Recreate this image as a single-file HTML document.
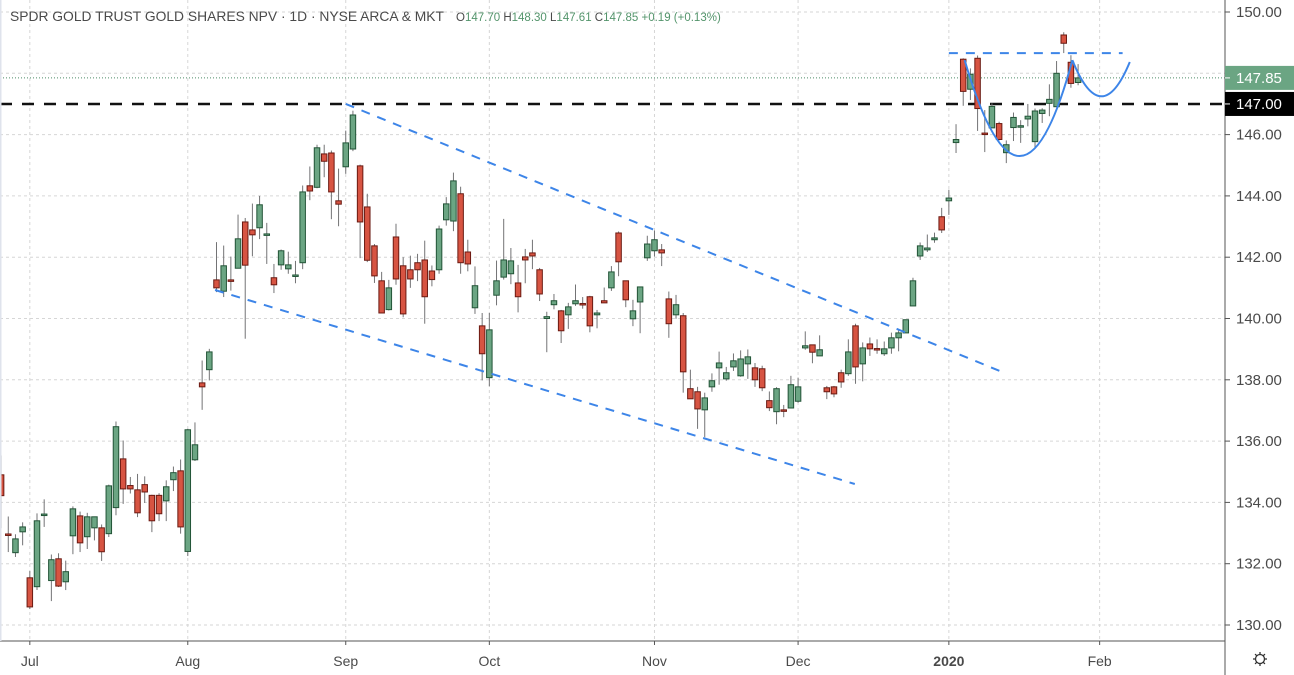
<!DOCTYPE html>
<html><head><meta charset="utf-8">
<style>
html,body{margin:0;padding:0;background:#fff;}
#wrap{position:relative;width:1294px;height:675px;overflow:hidden;font-family:"Liberation Sans",sans-serif;}
svg text{font-family:"Liberation Sans",sans-serif;}
</style></head>
<body>
<div id="wrap">
<svg id="chart" width="1294" height="675"></svg>
</div>
<script>
const opens=[134.9,132.97,132.36,133.04,131.54,131.25,133.6,131.45,132.16,131.41,132.91,133.56,132.88,133.17,133.17,132.98,133.83,135.42,134.55,134.41,134.58,134.23,134.23,134.05,134.74,135.03,132.4,135.39,137.9,138.33,
141.26,140.89,141.26,141.64,143.15,142.89,142.96,142.72,141.33,141.75,141.62,141.39,141.82,144.33,144.28,145.37,145.4,143.84,144.95,145.53,144.98,143.64,142.37,141.23,140.29,142.66,141.72,141.59,141.82,141.91,141.55,141.59,143.22,143.18,144.07,142.17,140.35,
139.76,138.07,140.76,141.35,141.46,141.16,142.01,142.14,141.59,140.0,140.45,140.25,140.12,140.48,140.49,140.71,140.12,140.58,141.0,142.79,141.23,139.99,140.54,141.98,142.21,142.24,140.64,140.12,140.09,137.71,137.61,137.02,137.77,138.39,
138.03,138.42,138.13,138.52,138.39,138.36,137.32,136.96,137.02,137.08,137.3,139.04,139.14,138.78,137.74,137.77,138.23,138.2,139.76,138.52,139.17,139.02,138.85,139.04,139.37,139.53,140.41,142.04,142.24,142.57,143.32,143.84,
145.74,148.46,147.48,148.49,146.05,146.22,146.36,145.41,146.23,146.25,146.51,145.77,146.69,147.02,146.91,149.25,148.36,147.7];
const highs=[135.53,133.54,132.96,133.35,131.76,133.64,134.1,132.3,132.34,132.1,133.87,133.7,133.66,133.53,133.28,134.58,136.64,136.02,134.83,134.93,134.85,134.25,134.3,134.72,135.17,135.4,136.4,136.61,138.63,139.01,
142.49,142.38,142.02,143.39,143.28,143.75,144.0,143.12,141.78,142.25,142.18,141.88,144.34,144.96,145.67,145.67,145.48,144.89,146.13,146.78,145.02,144.07,142.43,141.52,141.26,143.09,142.0,142.05,142.11,142.54,141.73,143.03,143.96,144.76,144.3,142.57,141.7,
140.18,140.18,141.89,143.25,142.3,141.75,142.27,142.57,141.65,140.22,140.8,140.28,140.51,141.11,140.7,140.74,140.28,141.01,141.71,142.84,141.23,140.61,141.03,142.7,142.87,142.43,140.88,140.77,140.18,138.33,137.77,137.58,138.21,138.92,
138.42,138.86,138.96,138.99,138.55,138.46,137.62,137.76,137.18,138.13,138.07,139.58,139.14,139.45,137.8,137.8,138.33,139.32,139.83,139.22,139.38,139.32,139.25,139.54,139.66,139.96,141.33,142.48,142.74,142.8,143.61,144.2,
146.34,148.49,148.16,148.58,146.8,147.02,146.42,145.81,146.72,146.47,147.0,146.85,146.86,147.64,148.4,149.34,148.59,148.3];
const lows=[133.16,132.38,132.22,132.6,130.52,131.14,133.2,130.78,131.24,131.14,132.31,132.38,132.48,132.76,132.09,132.87,133.58,133.95,134.29,133.52,133.98,133.03,133.39,133.39,134.37,132.98,132.25,135.35,137.02,137.98,
140.86,140.7,140.91,141.64,139.34,142.03,142.59,141.78,140.83,141.59,141.46,141.15,141.61,143.86,144.25,144.61,143.24,143.01,144.72,145.46,141.97,141.84,141.16,140.18,140.26,141.1,140.04,141.0,141.22,139.83,141.05,141.46,143.03,142.85,141.46,141.54,140.15,
137.98,137.79,140.43,141.27,141.12,140.2,141.15,141.61,140.57,138.9,140.3,139.2,139.66,140.41,140.32,139.55,139.68,140.51,140.9,141.38,140.37,139.75,139.52,141.88,142.02,141.71,139.37,139.99,137.58,137.38,136.4,136.13,137.61,137.84,
137.97,138.29,138.1,138.03,137.77,137.63,136.98,136.55,136.78,137.08,137.25,138.98,138.54,138.78,137.37,137.43,137.74,138.13,137.87,137.95,138.78,138.85,138.78,138.85,138.93,139.53,140.41,141.91,142.17,142.47,142.79,143.38,
145.4,146.94,147.13,146.12,145.43,146.22,145.81,145.07,145.79,145.73,146.27,145.53,146.38,146.6,146.89,148.66,147.53,147.61];
const closes=[134.22,132.95,132.81,133.2,130.59,133.4,133.62,132.13,131.27,131.74,133.79,132.68,133.53,133.53,132.39,134.54,136.47,134.44,134.44,133.66,134.34,133.4,133.63,134.51,134.97,133.2,136.37,135.88,137.77,138.91,
141.0,141.72,141.22,142.6,141.74,142.73,143.71,142.76,141.1,142.21,141.75,141.42,144.13,144.16,145.57,145.13,144.13,143.73,145.73,146.64,143.15,141.9,141.39,140.18,141.0,141.29,140.15,141.29,141.59,140.71,141.27,142.92,143.74,144.49,141.82,141.78,141.07,
138.85,139.63,141.23,141.91,141.88,140.71,141.91,142.04,140.8,140.06,140.58,139.6,140.38,140.58,140.46,139.76,140.18,140.51,141.52,141.85,140.61,140.25,141.03,142.43,142.57,142.14,139.83,140.45,138.26,137.38,137.05,137.41,137.97,138.55,
138.23,138.62,138.68,138.75,138.0,137.74,137.09,137.71,137.0,137.84,137.77,139.11,138.9,138.98,137.61,137.54,137.93,138.91,138.42,139.04,139.01,139.0,139.01,139.37,139.53,139.96,141.23,142.37,142.3,142.63,142.89,143.93,
145.84,147.41,147.97,146.85,146.03,146.92,145.84,145.67,146.56,146.29,146.6,146.77,146.8,147.15,148.0,148.98,147.67,147.85];
const priceTicks=[130,132,134,136,138,140,142,144,146,148,150];
const monthLabels=["Jul","Aug","Sep","Oct","Nov","Dec","2020","Feb"];
const monthIdx=[4,26,48,68,91,111,132,153];
const upperTrend=[[48,147.0],[139.8,138.22]];
const lowerTrend=[[29.8,140.93],[118.9,134.6]];
const resistance=[[132,148.66],[156.2,148.66]];
const cup=[[134.2,148.43],[142,145.3],[149.2,148.43]];
const handle=[[149.2,148.43],[153.2,147.25],[157.2,148.37]];
const supportLevel=147.0;
const lastPrice=147.85;

const NS="http://www.w3.org/2000/svg";
const svg=document.getElementById('chart');
const PLOT_R=1225, AXIS_B=641;
function yOf(p){return 12+(150-p)*30.65;}
function xOf(i){return 1.1+7.18*i;}
function mk(tag,attrs,parent){const e=document.createElementNS(NS,tag);for(const k in attrs)e.setAttribute(k,attrs[k]);(parent||svg).appendChild(e);return e;}

const defs=mk('defs',{});
const cp=mk('clipPath',{id:'plotclip'},defs);
mk('rect',{x:0,y:0,width:PLOT_R,height:AXIS_B},cp);

const grid=mk('g',{'clip-path':'url(#plotclip)'});


priceTicks.forEach(p=>{
  const l=mk('line',{x1:0,x2:PLOT_R,y1:yOf(p),y2:yOf(p),stroke:'#d6d6d6','stroke-dasharray':'3,3','stroke-width':1},grid);
  
  
});
monthIdx.forEach(i=>{
  const l=mk('line',{x1:xOf(i),x2:xOf(i),y1:0,y2:AXIS_B,stroke:'#d6d6d6','stroke-dasharray':'3,3','stroke-width':1},grid);
  
  
});

const plot=mk('g',{'clip-path':'url(#plotclip)'});



const lp=mk('line',{x1:0,x2:PLOT_R,y1:yOf(lastPrice),y2:yOf(lastPrice),stroke:'#4e8c68','stroke-dasharray':'1,2','stroke-width':1},plot);



const sl=mk('line',{x1:0,x2:PLOT_R,y1:yOf(supportLevel),y2:yOf(supportLevel),stroke:'#111','stroke-dasharray':'12,10','stroke-width':2.5},plot);



for(let i=0;i<opens.length;i++){
  const o=opens[i],h=highs[i],l=lows[i],c=closes[i];
  const up=c>=o;
  const g=mk('g',{},plot);
  
  
  const x=xOf(i);
  mk('line',{x1:x,x2:x,y1:yOf(h),y2:yOf(l),stroke:'#737375','stroke-width':1},g);
  const top=yOf(Math.max(o,c)),bot=yOf(Math.min(o,c));
  mk('rect',{x:x-2.75,y:top,width:5.5,height:Math.max(bot-top,1.5),fill:up?'#6ba583':'#d75442',stroke:up?'#225437':'#6b1a12','stroke-width':1},g);
}

function segLine(pts,name){
  const l=mk('line',{x1:xOf(pts[0][0]),y1:yOf(pts[0][1]),x2:xOf(pts[1][0]),y2:yOf(pts[1][1]),stroke:'#3d85e8','stroke-width':2,'stroke-dasharray':'9,8'},plot);
  
  
}
segLine(upperTrend,'upper-trend-line');
segLine(lowerTrend,'lower-trend-line');
segLine(resistance,'resistance-line');
function qcurve(pts,name){
  const [a,m,b]=pts;
  const cy=2*yOf(m[1])-(yOf(a[1])+yOf(b[1]))/2;
  const p=mk('path',{d:`M${xOf(a[0])},${yOf(a[1])} Q${xOf(m[0])},${cy} ${xOf(b[0])},${yOf(b[1])}`,fill:'none',stroke:'#3d85e8','stroke-width':2},plot);
  
  
}
qcurve(cup,'cup-curve');
qcurve(handle,'handle-curve');

const ax=mk('g',{});


mk('line',{x1:PLOT_R,x2:PLOT_R,y1:0,y2:675,stroke:'#555','stroke-width':1},ax);
mk('line',{x1:0,x2:PLOT_R,y1:AXIS_B,y2:AXIS_B,stroke:'#555','stroke-width':1},ax);
mk('rect',{x:0,y:0,width:1.5,height:AXIS_B,fill:'#dfe3ec'},ax);
priceTicks.forEach(p=>{
  mk('line',{x1:PLOT_R,x2:PLOT_R+5,y1:yOf(p),y2:yOf(p),stroke:'#555'},ax);
  const t=mk('text',{x:1236,y:yOf(p)+5,'font-size':15,fill:'#4a4a4a'},ax);
  t.textContent=p.toFixed(2);
  
  
});
monthLabels.forEach((m,k)=>{
  const x=xOf(monthIdx[k]);
  mk('line',{x1:x,x2:x,y1:AXIS_B,y2:AXIS_B+4,stroke:'#555'},ax);
  const t=mk('text',{x:x,y:666,'font-size':14,fill:'#4a4a4a','text-anchor':'middle','font-weight':m==='2020'?'bold':'normal'},ax);
  t.textContent=m;
  
  
});
function tag(p,bg,name){
  const g=mk('g',{});
  
  
  mk('rect',{x:PLOT_R,y:yOf(p)-12,width:69,height:24,fill:bg},g);
  mk('line',{x1:PLOT_R,x2:PLOT_R+5,y1:yOf(p),y2:yOf(p),stroke:'#fff'},g);
  const t=mk('text',{x:1236,y:yOf(p)+5,'font-size':15,fill:'#fff'},g);
  t.textContent=p.toFixed(2);
}
tag(lastPrice,'#6ba583','last-price-tag');
tag(supportLevel,'#000','support-price-tag');

const hd=mk('text',{x:10,y:21,'font-size':14,fill:'#4a4a4a',textLength:434,lengthAdjust:'spacingAndGlyphs'});


hd.textContent='SPDR GOLD TRUST GOLD SHARES NPV · 1D · NYSE ARCA & MKT';
const ohlc=mk('text',{x:456,y:21,'font-size':11.5,fill:'#4a4a4a'});


ohlc.innerHTML='O<tspan fill="#53946b">147.70</tspan> H<tspan fill="#53946b">148.30</tspan> L<tspan fill="#53946b">147.61</tspan> C<tspan fill="#53946b">147.85</tspan> <tspan fill="#53946b">+0.19 (+0.13%)</tspan>';

const gear=mk('g',{transform:'translate(1260,659)'});


mk('circle',{cx:0,cy:0,r:4.5,fill:'none',stroke:'#333','stroke-width':1.3},gear);
for(let a=0;a<8;a++){const r=a*Math.PI/4;mk('line',{x1:4.5*Math.cos(r),y1:4.5*Math.sin(r),x2:7*Math.cos(r),y2:7*Math.sin(r),stroke:'#333','stroke-width':1.3},gear);}
</script>
</body></html>
